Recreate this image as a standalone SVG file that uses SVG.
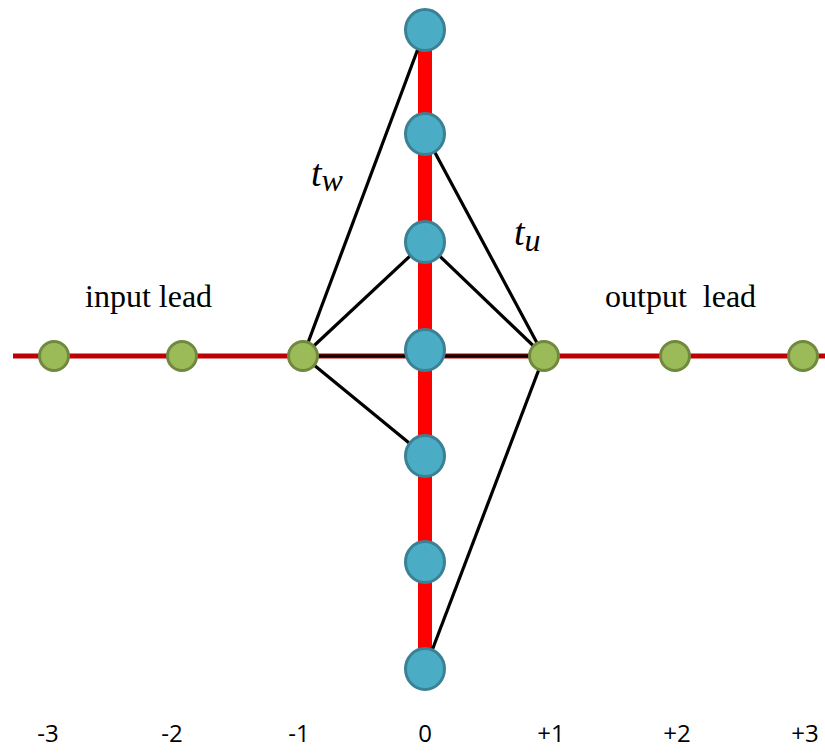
<svg xmlns="http://www.w3.org/2000/svg" width="825" height="753" viewBox="0 0 825 753">
<style>
.lead{stroke:#C00000;stroke-width:5;fill:none}
.chain{stroke:#FF0000;stroke-width:14;fill:none}
.hop{stroke:#000;stroke-width:3.2;fill:none}
.blue{fill:#4BACC6;stroke:#3A8196;stroke-width:3}
.green{fill:#9BBB59;stroke:#71893F;stroke-width:3}
.lbl{font-family:"Liberation Serif",serif;font-size:32px;fill:#000}
.t{font-family:"Liberation Serif",serif;font-style:italic;fill:#000}
.num{font-family:"Open Sans","Liberation Sans",sans-serif;font-size:24px;fill:#000;text-anchor:middle}
</style>
<g id="connectors">
<line class="lead" x1="13" y1="356" x2="825" y2="356"/>
<line class="chain" x1="425" y1="30" x2="425" y2="669"/>
<line class="hop" x1="303" y1="356" x2="425" y2="30"/>
<line class="hop" x1="303" y1="356" x2="425" y2="242"/>
<line class="hop" x1="303" y1="356" x2="544" y2="356"/>
<line class="hop" x1="303" y1="356" x2="425" y2="456"/>
<line class="hop" x1="544" y1="356" x2="425" y2="134"/>
<line class="hop" x1="544" y1="356" x2="425" y2="242"/>
<line class="hop" x1="544" y1="356" x2="425" y2="669"/>
</g>
<g id="b0"><ellipse class="blue" cx="425" cy="30" rx="19.5" ry="20.5"/></g>
<g id="b1"><ellipse class="blue" cx="425" cy="134" rx="19.5" ry="20.5"/></g>
<g id="b2"><ellipse class="blue" cx="425" cy="242" rx="19.5" ry="20.5"/></g>
<g id="b3"><ellipse class="blue" cx="425" cy="350" rx="19.5" ry="20.5"/></g>
<g id="b4"><ellipse class="blue" cx="425" cy="456" rx="19.5" ry="20.5"/></g>
<g id="b5"><ellipse class="blue" cx="425" cy="562" rx="19.5" ry="20.5"/></g>
<g id="b6"><ellipse class="blue" cx="425" cy="669" rx="19.5" ry="20.5"/></g>
<g id="gm3"><circle class="green" cx="54" cy="356" r="14.5"/></g>
<g id="gm2"><circle class="green" cx="182" cy="356" r="14.5"/></g>
<g id="gm1"><circle class="green" cx="303" cy="356" r="14.5"/></g>
<g id="gp1"><circle class="green" cx="544" cy="356" r="14.5"/></g>
<g id="gp2"><circle class="green" cx="675" cy="356" r="14.5"/></g>
<g id="gp3"><circle class="green" cx="803" cy="356" r="14.5"/></g>
<g id="labels">
<text class="t" x="311" y="186" font-size="38">t<tspan font-size="32" dy="5">w</tspan></text>
<text class="t" x="514" y="245" font-size="38">t<tspan font-size="32" dy="6">u</tspan></text>
<text class="lbl" x="85" y="307">input lead</text>
<text class="lbl" x="605" y="307" xml:space="preserve">output  lead</text>
<text class="num" x="48" y="742">-3</text>
<text class="num" x="172" y="742">-2</text>
<text class="num" x="299" y="742">-1</text>
<text class="num" x="425" y="742">0</text>
<text class="num" x="551" y="742">+1</text>
<text class="num" x="677" y="742">+2</text>
<text class="num" x="805" y="742">+3</text>
</g>
</svg>
